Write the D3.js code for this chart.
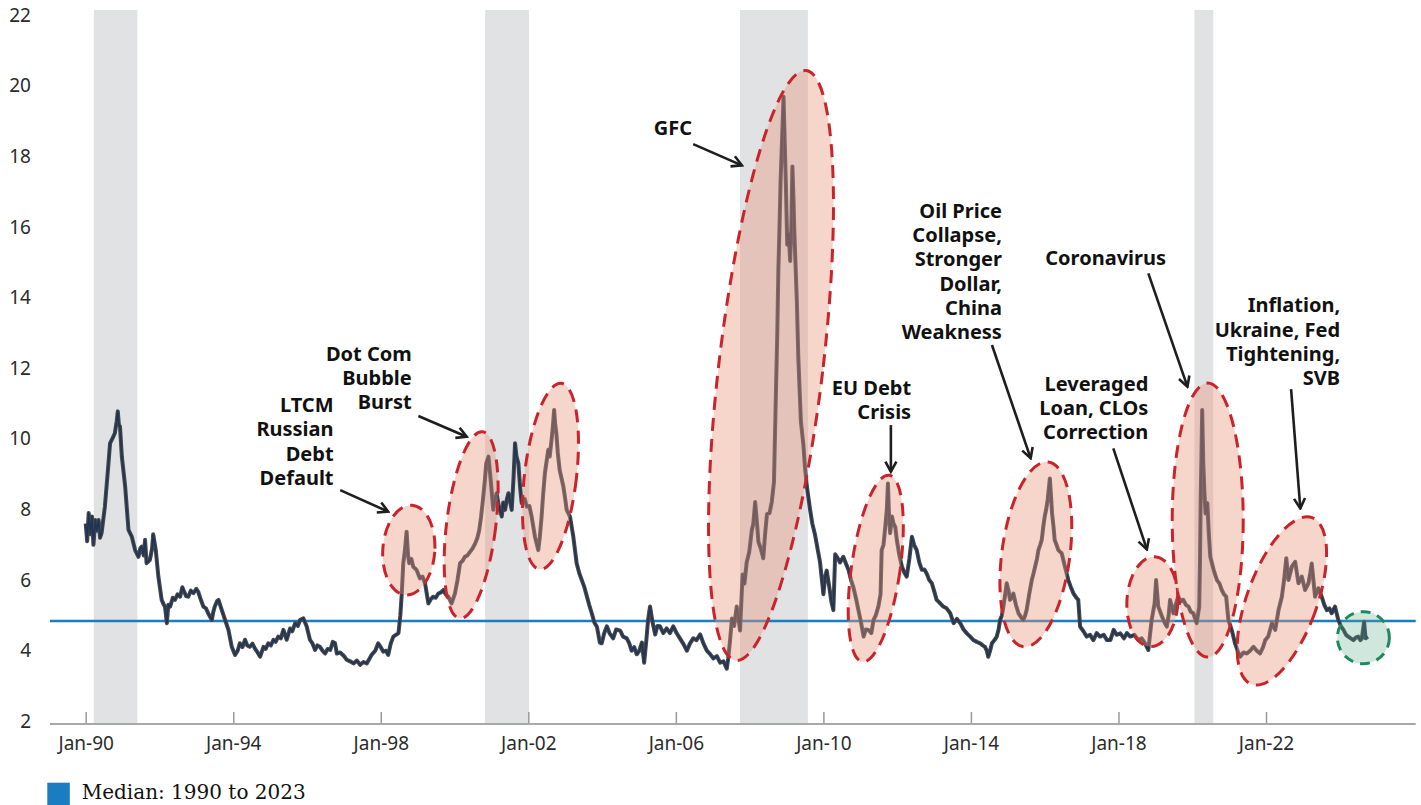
<!DOCTYPE html>
<html>
<head>
<meta charset="utf-8">
<script src="https://cdn.jsdelivr.net/npm/d3@7"></script>
<style>
  html, body { margin: 0; padding: 0; background: #fff; }
  svg { display: block; }
</style>
</head>
<body>
<div id="chart"></div>
<script>
// ---------------------- data ----------------------
// [decimal year, spread]
var spread1990s = [
  [1990.0,7.6],[1990.04,7.1],[1990.08,7.9],[1990.13,7.3],[1990.17,7.8],[1990.21,7.0],[1990.26,7.7],[1990.3,7.4],
  [1990.35,7.7],[1990.39,7.2],[1990.43,7.33],[1990.52,8.08],[1990.61,9.21],[1990.66,9.87],[1990.72,10.0],[1990.79,10.16],
  [1990.84,10.5],[1990.87,10.78],[1990.9,10.4],[1990.93,10.35],[1990.98,9.5],[1991.07,8.65],[1991.16,7.42],[1991.25,7.23],
  [1991.34,6.85],[1991.43,6.66],[1991.48,6.9],[1991.52,6.95],[1991.57,6.7],[1991.61,7.14],[1991.65,6.48],[1991.74,6.57],
  [1991.8,6.9],[1991.83,7.3],[1991.9,6.85],[1991.97,6.1],[1992.06,5.44],[1992.12,5.3],[1992.15,5.25],[1992.2,4.78],
  [1992.24,5.3],[1992.29,5.25],[1992.36,5.5],[1992.42,5.44],[1992.49,5.6],[1992.56,5.53],[1992.62,5.8],[1992.65,5.72],
  [1992.72,5.55],[1992.78,5.53],[1992.85,5.7],[1992.92,5.63],[1993.0,5.75],[1993.05,5.67],[1993.12,5.45],[1993.19,5.25],
  [1993.26,5.2],[1993.32,5.06],[1993.42,4.87],[1993.46,5.1],[1993.5,5.25],[1993.56,5.4],[1993.6,5.44],[1993.69,5.15],
  [1993.78,4.87],[1993.87,4.59],[1993.96,4.11],[1994.05,3.88],[1994.12,4.0],[1994.18,4.21],[1994.25,4.1],[1994.32,4.31],
  [1994.38,4.15],[1994.45,4.11],[1994.52,4.2],[1994.59,4.06],[1994.66,3.95],[1994.73,3.83],[1994.82,4.11],[1994.88,4.05],
  [1994.95,4.21],[1995.02,4.15],[1995.09,4.31],[1995.15,4.25],[1995.22,4.4],[1995.29,4.35],[1995.36,4.59],[1995.45,4.31],
  [1995.54,4.63],[1995.6,4.55],[1995.68,4.78],[1995.75,4.7],[1995.81,4.87],[1995.9,4.92],[1995.99,4.69],[1996.08,4.31],
  [1996.15,4.2],[1996.22,4.02],[1996.28,4.15],[1996.35,4.11],[1996.42,4.0],[1996.49,3.92],[1996.56,4.05],[1996.63,4.02],
  [1996.7,4.25],[1996.76,4.21],[1996.81,3.92],[1996.9,3.95],[1997.0,3.85],[1997.08,3.74],[1997.17,3.7],[1997.26,3.64],
  [1997.35,3.72],[1997.44,3.6],[1997.53,3.68],[1997.62,3.64],[1997.75,3.88],[1997.85,4.0],[1997.93,4.21],[1998.0,4.1],
  [1998.07,3.97],[1998.14,4.0],[1998.2,3.88],[1998.27,4.2],[1998.34,4.4],[1998.41,4.45],[1998.48,4.5],[1998.53,5.0],
  [1998.57,5.63],[1998.61,6.48],[1998.65,6.8],[1998.7,7.37],[1998.74,6.7],[1998.77,6.48],[1998.83,6.6],[1998.88,6.38],
  [1998.97,6.29],[1999.06,6.05],[1999.13,6.1],[1999.2,5.91],[1999.29,5.34],[1999.35,5.45],[1999.42,5.53],[1999.49,5.5],
  [1999.56,5.62],[1999.63,5.65],[1999.7,5.72],[1999.76,5.6],[1999.83,5.53],[1999.92,5.34]
];

var spread2000s = [
  [2000.01,5.62],[2000.08,6.0],[2000.15,6.48],[2000.22,6.55],[2000.28,6.66],[2000.35,6.7],[2000.42,6.8],[2000.49,6.9],
  [2000.56,7.04],[2000.62,7.2],[2000.67,7.42],[2000.72,7.8],[2000.76,8.18],[2000.82,8.8],[2000.86,9.31],[2000.92,9.5],
  [2000.98,8.84],[2001.05,7.99],[2001.1,8.3],[2001.14,8.46],[2001.2,8.1],[2001.28,7.8],[2001.32,8.2],[2001.37,7.99],
  [2001.42,8.3],[2001.46,8.46],[2001.51,8.2],[2001.55,7.99],[2001.6,8.9],[2001.64,9.88],[2001.68,9.5],[2001.73,9.31],
  [2001.78,8.6],[2001.82,8.18],[2001.9,8.3],[2001.96,8.08],[2002.03,8.1],[2002.09,7.8],[2002.18,7.23],[2002.27,6.85],
  [2002.31,7.2],[2002.36,7.8],[2002.4,8.4],[2002.45,9.03],[2002.54,9.69],[2002.58,9.5],[2002.63,9.97],[2002.67,10.4],
  [2002.7,10.82],[2002.73,10.4],[2002.76,10.16],[2002.8,9.6],[2002.85,9.12],[2002.95,8.65],[2003.0,8.3],[2003.04,7.99],
  [2003.13,7.8],[2003.22,7.23],[2003.31,6.48],[2003.38,6.2],[2003.45,6.0],[2003.52,5.8],[2003.59,5.53],[2003.65,5.3],
  [2003.72,5.06],[2003.79,4.8],[2003.86,4.68],[2003.94,4.23],[2003.99,4.21],[2004.06,4.5],[2004.13,4.69],[2004.2,4.5],
  [2004.3,4.35],[2004.38,4.6],[2004.49,4.57],[2004.57,4.4],[2004.67,4.35],[2004.74,4.2],[2004.8,4.0],[2004.87,4.1],
  [2004.94,3.9],[2005.01,4.0],[2005.08,4.23],[2005.14,3.66],[2005.2,4.3],[2005.25,4.9],[2005.3,5.25],[2005.37,4.8],
  [2005.44,4.46],[2005.5,4.7],[2005.57,4.69],[2005.66,4.5],[2005.75,4.63],[2005.84,4.5],[2005.93,4.69],[2006.02,4.5],
  [2006.11,4.35],[2006.2,4.2],[2006.3,4.0],[2006.38,4.2],[2006.47,4.35],[2006.56,4.3],[2006.66,4.46],[2006.75,4.2],
  [2006.84,4.0],[2006.93,3.9],[2007.02,3.78],[2007.11,3.85],[2007.2,3.66],[2007.29,3.7],[2007.38,3.49],[2007.42,3.78],
  [2007.47,4.3],[2007.52,4.91],[2007.58,4.7],[2007.65,5.25],[2007.7,4.9],[2007.74,4.57],[2007.81,6.16],[2007.86,5.9],
  [2007.92,6.5],[2007.99,6.8],[2008.06,7.42],[2008.1,7.6],[2008.15,8.21],[2008.2,7.6],[2008.24,7.08],[2008.3,6.9],
  [2008.37,6.62],[2008.42,7.3],[2008.47,7.87],[2008.54,7.9],[2008.6,8.21],[2008.66,8.78],[2008.72,11.63],[2008.75,13.0],
  [2008.78,14.82],[2008.81,16.0],[2008.84,17.32],[2008.88,18.5],[2008.92,19.69],[2008.95,18.5],[2008.98,17.32],[2009.02,15.5],
  [2009.06,15.8],[2009.1,15.04],[2009.13,16.0],[2009.16,17.72],[2009.19,16.8],[2009.21,15.95],[2009.28,13.91],[2009.32,12.31],
  [2009.39,10.49],[2009.46,9.81],[2009.5,9.2],[2009.55,8.67],[2009.64,7.99],[2009.7,7.6],[2009.77,7.3],[2009.84,6.9],
  [2009.91,6.5],[2009.96,6.0]
];

var spread2010s = [
  [2010.0,5.6],[2010.05,6.1],[2010.09,6.27],[2010.16,5.8],[2010.22,5.37],[2010.27,5.15],[2010.32,6.73],[2010.4,6.6],
  [2010.45,6.5],[2010.54,6.66],[2010.6,6.5],[2010.68,6.29],[2010.75,6.0],[2010.81,5.81],[2010.88,5.5],[2010.95,5.15],
  [2011.02,4.8],[2011.09,4.4],[2011.15,4.6],[2011.22,4.59],[2011.3,4.5],[2011.36,4.87],[2011.42,5.0],[2011.49,5.25],
  [2011.55,5.6],[2011.58,6.85],[2011.63,7.0],[2011.67,7.42],[2011.72,8.0],[2011.75,8.74],[2011.78,7.8],[2011.81,7.33],
  [2011.86,7.8],[2011.9,7.61],[2011.95,7.5],[2011.99,7.14],[2012.06,6.7],[2012.13,6.38],[2012.2,6.2],[2012.26,6.1],
  [2012.33,6.6],[2012.4,7.23],[2012.46,7.0],[2012.53,6.85],[2012.6,6.5],[2012.67,6.29],[2012.74,6.3],[2012.8,6.19],
  [2012.87,6.0],[2012.94,5.91],[2013.0,5.7],[2013.07,5.44],[2013.16,5.35],[2013.25,5.25],[2013.34,5.2],[2013.44,5.06],
  [2013.53,4.78],[2013.62,4.9],[2013.71,4.78],[2013.8,4.6],[2013.89,4.49],[2013.98,4.4],[2014.07,4.3],[2014.16,4.25],
  [2014.25,4.21],[2014.32,4.15],[2014.38,4.11],[2014.43,4.0],[2014.47,3.83],[2014.52,4.0],[2014.57,4.21],[2014.64,4.3],
  [2014.7,4.4],[2014.75,4.6],[2014.79,4.87],[2014.84,5.0],[2014.88,5.25],[2014.93,5.6],[2014.97,5.91],[2015.02,5.7],
  [2015.06,5.44],[2015.1,5.5],[2015.15,5.62],[2015.22,5.3],[2015.29,5.06],[2015.36,4.95],[2015.42,4.87],[2015.47,5.0],
  [2015.51,5.15],[2015.58,5.6],[2015.65,6.0],[2015.7,6.2],[2015.74,6.38],[2015.79,6.6],[2015.83,6.85],[2015.88,7.0],
  [2015.92,7.14],[2015.96,7.5],[2016.0,7.8],[2016.04,8.0],[2016.08,8.27],[2016.14,8.88],[2016.17,8.4],[2016.2,7.89],
  [2016.24,7.5],[2016.27,7.14],[2016.32,7.0],[2016.37,6.85],[2016.46,6.76],[2016.55,6.38],[2016.64,6.0],[2016.71,5.8],
  [2016.78,5.62],[2016.86,5.5],[2016.91,5.44],[2016.96,4.68],[2017.05,4.55],[2017.14,4.4],[2017.23,4.45],[2017.32,4.3],
  [2017.41,4.5],[2017.5,4.4],[2017.6,4.45],[2017.69,4.3],[2017.78,4.3],[2017.87,4.59],[2017.95,4.45],[2018.05,4.49],
  [2018.15,4.35],[2018.23,4.5],[2018.32,4.4],[2018.43,4.45],[2018.54,4.3],[2018.63,4.35],[2018.72,4.21],[2018.81,4.02],
  [2018.86,4.5],[2018.9,4.87],[2018.98,5.34],[2019.02,6.0],[2019.08,5.25],[2019.18,4.97],[2019.25,4.8],[2019.31,4.68],
  [2019.36,5.0],[2019.4,5.44],[2019.49,5.06],[2019.55,5.3],[2019.62,5.53],[2019.69,5.4],[2019.76,5.44],[2019.83,5.3],
  [2019.9,5.25],[2019.96,5.1]
];

var spread2020s = [
  [2020.03,5.06],[2020.12,4.78],[2020.19,5.25],[2020.21,6.5],[2020.23,8.36],[2020.25,9.5],[2020.27,10.82],[2020.3,9.31],
  [2020.33,8.5],[2020.36,7.89],[2020.41,8.18],[2020.45,7.3],[2020.49,6.66],[2020.58,6.29],[2020.67,6.0],[2020.74,5.9],
  [2020.8,5.72],[2020.86,5.6],[2020.92,5.53],[2020.98,4.87],[2021.07,4.59],[2021.16,4.21],[2021.23,4.0],[2021.3,3.83],
  [2021.39,3.95],[2021.48,3.92],[2021.57,4.0],[2021.66,4.11],[2021.75,4.0],[2021.84,3.92],[2021.92,4.1],[2021.98,4.3],
  [2022.06,4.4],[2022.16,4.78],[2022.25,4.59],[2022.34,5.15],[2022.43,5.53],[2022.49,6.0],[2022.55,6.62],[2022.61,6.0],
  [2022.7,6.38],[2022.79,6.52],[2022.88,5.91],[2022.97,6.1],[2023.06,5.72],[2023.15,5.91],[2023.2,6.2],[2023.24,6.47],
  [2023.33,5.53],[2023.42,5.77],[2023.51,5.53],[2023.58,5.3],[2023.65,5.15],[2023.72,5.2],[2023.78,5.06],[2023.87,5.25],
  [2023.96,4.87],[2024.03,4.7],[2024.1,4.59],[2024.17,4.45],[2024.23,4.4],[2024.3,4.35],[2024.37,4.3],[2024.44,4.38],
  [2024.5,4.4],[2024.56,4.3],[2024.6,4.35],[2024.66,4.82],[2024.7,4.35],[2024.76,4.4]
];

var medianValue = 4.84;
var medianLabel = "Median: 1990 to 2023";

// recession bands [start, end] in decimal years
var recessions = [[1990.22, 1991.4], [2000.83, 2002.02], [2007.74, 2009.58], [2020.06, 2020.57]];

var yTicks = [2, 4, 6, 8, 10, 12, 14, 16, 18, 20, 22];
var xTicks = [1990, 1994, 1998, 2002, 2006, 2010, 2014, 2018, 2022];

// event labels: lines of text, right edge (year), first line (value)
var eventNames = [
  ["LTCM", "Russian", "Debt", "Default"],
  ["Dot Com", "Bubble", "Burst"],
  ["GFC"],
  ["EU Debt", "Crisis"],
  ["Oil Price", "Collapse,", "Stronger", "Dollar,", "China", "Weakness"],
  ["Leveraged", "Loan, CLOs", "Correction"],
  ["Coronavirus"],
  ["Inflation,", "Ukraine, Fed", "Tightening,", "SVB"]
];
var eventLabelAt = [[1996.72, 10.96], [1998.84, 12.42], [2006.44, 18.81], [2012.38, 11.46],
                    [2014.84, 16.46], [2018.81, 11.56], [2019.29, 15.12], [2024.01, 13.79]];
// arrows [fromYear, fromValue, toYear, toValue]
var eventArrows = [
  [1996.9, 8.55, 1998.2, 7.94],
  [1999.02, 10.65, 2000.33, 10.06],
  [2006.47, 18.35, 2007.79, 17.75],
  [2011.83, 10.39, 2011.83, 9.07],
  [2014.57, 12.66, 2015.62, 9.45],
  [2017.86, 9.73, 2018.77, 6.87],
  [2018.81, 14.69, 2019.87, 11.48],
  [2022.68, 11.41, 2022.93, 8.03]
];
// ellipses: centre year, centre value
var eventCentres = [[1998.76, 6.85], [2000.45, 7.56], [2002.6, 8.94], [2008.58, 12.08], [2011.42, 6.33],
                    [2015.76, 6.73], [2018.92, 5.39], [2020.42, 7.7], [2022.43, 5.41]];
var nowCentre = [2024.64, 4.37];

// ---------------------- layout ----------------------
var W = 1421, H = 805;
var ellipseShape = [ // rx, ry, rotation (px, deg)
  [26, 45, 4], [24.6, 94, 7], [26, 93.6, 6.7], [52, 297, 6.8], [24.3, 94.2, 8.2],
  [34, 93.2, 7.7], [25.5, 45, 3], [35.5, 137, 0], [35, 88.6, 20]
];

var svg = d3.select("#chart")
     .append("svg")
     .attr("width", W)
     .attr("height", H);

var x = d3.scaleLinear().domain([1990, 2022]).range([85.7, 1266]);
var y = d3.scaleLinear().domain([2, 22]).range([721.3, 15.3]);
var xMin = 1989.03, xMax = 2026.06, floorY = y(2) + 2.7;

// ---------------------- recession shading ----------------------
svg.append("g").selectAll("rect")
     .data(recessions)
     .enter()
     .append("rect")
     .attr("x", d => x(d[0]))
     .attr("width", d => x(d[1]) - x(d[0]))
     .attr("y", y(22.15))
     .attr("height", floorY - y(22.15))
     .attr("fill", "#e1e2e4");

// ---------------------- axes ----------------------
var yAxis = svg.append("g")
     .attr("transform", "translate(31,0)")
     .call(d3.axisLeft(y).tickValues(yTicks).tickSize(0).tickPadding(0));
yAxis.select(".domain").remove();
yAxis.selectAll("text")
     .style("font-family", "'Noto Sans', sans-serif")
     .style("font-size", "19px")
     .attr("fill", "#2b2b2b");

var xAxis = svg.append("g")
     .attr("transform", "translate(0," + floorY + ")")
     .call(d3.axisBottom(x).tickValues(xTicks).tickSize(-12).tickPadding(12.5)
           .tickFormat(d => "Jan-" + String(d).slice(2)));
xAxis.select(".domain").remove();
xAxis.selectAll("line").attr("stroke", "#9a9a9a").attr("stroke-width", 1.5);
xAxis.selectAll("text")
     .style("font-family", "'Noto Sans', sans-serif")
     .style("font-size", "19px")
     .attr("fill", "#2b2b2b");

svg.append("line")
     .attr("x1", x(xMin)).attr("x2", x(xMax))
     .attr("y1", floorY).attr("y2", floorY)
     .attr("stroke", "#a8a8a8")
     .attr("stroke-width", 2);

// ---------------------- median ----------------------
svg.append("line")
     .attr("x1", x(xMin)).attr("x2", x(xMax))
     .attr("y1", y(medianValue)).attr("y2", y(medianValue))
     .attr("stroke", "#1b7dc0")
     .attr("stroke-width", 2.5);

// ---------------------- spread line ----------------------
var series = spread1990s.concat(spread2000s, spread2010s, spread2020s);
var line = d3.line().x(d => x(d[0])).y(d => y(d[1]));
svg.append("path")
     .datum(series)
     .attr("d", line)
     .attr("fill", "none")
     .attr("stroke", "#46484e")
     .attr("stroke-width", 4)
     .attr("stroke-linejoin", "round");
svg.append("path")
     .datum(series)
     .attr("d", line)
     .attr("fill", "none")
     .attr("stroke", "#1f3553")
     .attr("stroke-width", 1.6)
     .attr("stroke-linejoin", "round");

// ---------------------- event ellipses ----------------------
svg.append("g").selectAll("ellipse")
     .data(eventCentres)
     .enter()
     .append("ellipse")
     .attr("transform", (d, i) => "translate(" + x(d[0]) + "," + y(d[1]) + ") rotate(" + ellipseShape[i][2] + ")")
     .attr("rx", (d, i) => ellipseShape[i][0])
     .attr("ry", (d, i) => ellipseShape[i][1])
     .attr("fill", "#e8967a")
     .attr("fill-opacity", 0.4)
     .attr("stroke", "#c9242c")
     .attr("stroke-width", 3)
     .attr("stroke-dasharray", "13 8");

svg.append("circle")
     .attr("cx", x(nowCentre[0]))
     .attr("cy", y(nowCentre[1]))
     .attr("r", 26)
     .attr("fill", "#5fb08f")
     .attr("fill-opacity", 0.3)
     .attr("stroke", "#1f8a5f")
     .attr("stroke-width", 3)
     .attr("stroke-dasharray", "10 7");

// ---------------------- arrows + labels ----------------------
svg.append("defs").append("marker")
     .attr("id", "head")
     .attr("viewBox", "-12 -7 14 14")
     .attr("refX", 0).attr("refY", 0)
     .attr("markerWidth", 14).attr("markerHeight", 14)
     .attr("markerUnits", "userSpaceOnUse")
     .attr("orient", "auto")
     .append("path")
     .attr("d", "M-10,-5.5 L0,0 L-10,5.5")
     .attr("fill", "none")
     .attr("stroke", "#1e1e1e")
     .attr("stroke-width", 2.6);

svg.append("g").selectAll("line")
     .data(eventArrows)
     .enter()
     .append("line")
     .attr("x1", d => x(d[0])).attr("y1", d => y(d[1]))
     .attr("x2", d => x(d[2])).attr("y2", d => y(d[3]))
     .attr("stroke", "#1e1e1e")
     .attr("stroke-width", 2.6)
     .attr("marker-end", "url(#head)");

var labels = svg.append("g").selectAll("text")
     .data(eventNames)
     .enter()
     .append("text")
     .attr("text-anchor", "end")
     .style("font-family", "'Noto Sans', sans-serif")
     .style("font-weight", "bold")
     .style("font-size", "20px")
     .attr("fill", "#111");
labels.selectAll("tspan")
     .data((d, i) => d.map((t, j) => ({ t: t, j: j, at: eventLabelAt[i] })))
     .enter()
     .append("tspan")
     .attr("x", d => x(d.at[0]))
     .attr("y", d => y(d.at[1]) + d.j * 24.2)
     .attr("dy", "0.36em")
     .text(d => d.t);

// ---------------------- legend ----------------------
svg.append("rect")
     .attr("x", 47.3).attr("y", 782.7)
     .attr("width", 22.5).attr("height", 22.5)
     .attr("fill", "#1a7cc1");
svg.append("text")
     .attr("x", 81.7).attr("y", 799.3)
     .text(medianLabel)
     .style("font-family", "'DejaVu Serif', serif")
     .style("font-size", "20px")
     .attr("fill", "#111");
</script>
</body>
</html>
